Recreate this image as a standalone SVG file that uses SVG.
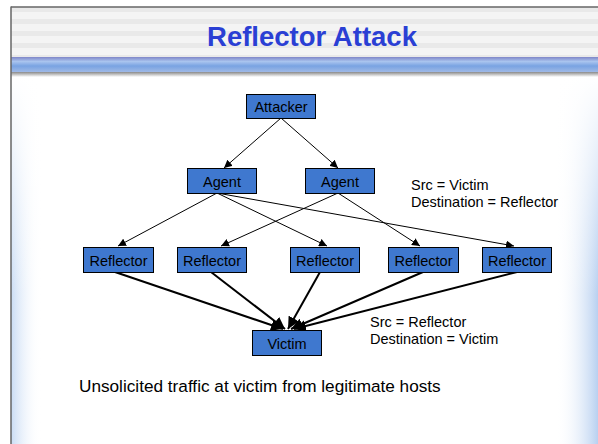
<svg xmlns="http://www.w3.org/2000/svg" width="598" height="444" viewBox="0 0 598 444">
<defs>
<pattern id="stripes" x="0" y="7" width="8" height="12" patternUnits="userSpaceOnUse">
<rect width="8" height="12" fill="#f4f4f4"/>
<rect y="0" width="8" height="5" fill="#e9e9e9"/>
</pattern>
<linearGradient id="band" x1="0" y1="0" x2="0" y2="1">
<stop offset="0" stop-color="#7f86c8"/>
<stop offset="0.3" stop-color="#a9c4ee"/>
<stop offset="0.6" stop-color="#79a3e2"/>
<stop offset="1" stop-color="#9fb9e6"/>
</linearGradient>
<linearGradient id="shadow" x1="0" y1="0" x2="0" y2="1">
<stop offset="0" stop-color="#8a8a8a"/>
<stop offset="1" stop-color="#ffffff"/>
</linearGradient>
<linearGradient id="lside" x1="0" y1="0" x2="1" y2="0">
<stop offset="0" stop-color="#c9dcf4"/>
<stop offset="1" stop-color="#ffffff" stop-opacity="0"/>
</linearGradient>
<linearGradient id="rside" x1="1" y1="0" x2="0" y2="0">
<stop offset="0" stop-color="#b8d0f0"/>
<stop offset="1" stop-color="#ffffff" stop-opacity="0"/>
</linearGradient>
<linearGradient id="lfade" x1="0" y1="0" x2="0" y2="1">
<stop offset="0" stop-color="#fff"/>
<stop offset="1" stop-color="#fff" stop-opacity="0"/>
</linearGradient>
<marker id="ah" viewBox="0 0 10 10" refX="10" refY="5" markerWidth="8" markerHeight="8" markerUnits="userSpaceOnUse" orient="auto">
<path d="M0,0 L10,5 L0,10 z" fill="#000"/>
</marker>
<marker id="ahb" viewBox="0 0 10 10" refX="10" refY="5" markerWidth="6" markerHeight="6" orient="auto">
<path d="M0,0 L10,5 L0,10 z" fill="#000"/>
</marker>
</defs>
<style>
.node rect { fill: #3f78cf; stroke: #000; stroke-width: 1; }
.node text { font-family: "Liberation Sans", Arial, sans-serif; font-size: 14.5px; fill: #000; text-anchor: middle; }
.thin { stroke: #000; stroke-width: 1; fill: none; marker-end: url(#ah); }
.thick { stroke: #000; stroke-width: 2; fill: none; marker-end: url(#ahb); }
.lbl { font-family: "Liberation Sans", Arial, sans-serif; font-size: 14.5px; fill: #000; }
</style>
<rect width="598" height="444" fill="#ffffff"/>
<!-- side gradients -->
<rect x="11" y="76" width="30" height="368" fill="url(#lside)"/>
<rect x="556" y="76" width="42" height="368" fill="url(#rside)"/>
<rect x="11" y="76" width="587" height="220" fill="url(#lfade)"/>
<!-- header -->
<rect x="11" y="7" width="587" height="50" fill="url(#stripes)"/>
<rect x="11" y="57" width="587" height="15" fill="url(#band)"/>
<rect x="11" y="72" width="587" height="5" fill="url(#shadow)"/>
<line x1="11" y1="7" x2="598" y2="7" stroke="#666" stroke-width="1.5"/>
<line x1="11" y1="6.5" x2="11" y2="444" stroke="#666" stroke-width="1.5"/>
<text x="312" y="46" font-family="Liberation Sans, Arial, sans-serif" font-size="27.5" font-weight="bold" fill="#2a3fd4" text-anchor="middle">Reflector Attack</text>
<g id="connectors">
<line class="thin" x1="281" y1="118" x2="224" y2="168"/>
<line class="thin" x1="281" y1="118" x2="338" y2="168"/>
<line class="thin" x1="217" y1="193" x2="118" y2="246"/>
<line class="thin" x1="217" y1="193" x2="327" y2="246"/>
<line class="thin" x1="217" y1="193" x2="514" y2="246"/>
<line class="thin" x1="338" y1="193" x2="221" y2="246"/>
<line class="thin" x1="338" y1="193" x2="420" y2="246"/>
<line class="thick" x1="115" y1="272" x2="283" y2="329"/>
<line class="thick" x1="211" y1="272" x2="285" y2="329"/>
<line class="thick" x1="320" y1="272" x2="288" y2="329"/>
<line class="thick" x1="423" y1="272" x2="291" y2="329"/>
<line class="thick" x1="517" y1="272" x2="294" y2="329"/>
</g>
<g id="attacker" class="node"><rect x="246.5" y="94.5" width="69" height="24"/><text x="281" y="111.5">Attacker</text></g>
<g id="agent1" class="node"><rect x="187.5" y="168.5" width="69" height="25"/><text x="222" y="186.5">Agent</text></g>
<g id="agent2" class="node"><rect x="305.5" y="168.5" width="69" height="25"/><text x="340" y="186.5">Agent</text></g>
<g id="reflector1" class="node"><rect x="83.5" y="247.5" width="70" height="25"/><text x="118.5" y="265.5">Reflector</text></g>
<g id="reflector2" class="node"><rect x="177.5" y="247.5" width="69" height="25"/><text x="212" y="265.5">Reflector</text></g>
<g id="reflector3" class="node"><rect x="290.5" y="247.5" width="69" height="25"/><text x="325" y="265.5">Reflector</text></g>
<g id="reflector4" class="node"><rect x="388.5" y="247.5" width="70" height="25"/><text x="423.5" y="265.5">Reflector</text></g>
<g id="reflector5" class="node"><rect x="482.5" y="247.5" width="69" height="25"/><text x="517" y="265.5">Reflector</text></g>
<g id="victim" class="node"><rect x="252.5" y="330.5" width="69" height="25"/><text x="287" y="348.5">Victim</text></g>
<text class="lbl" x="411" y="190">Src = Victim</text>
<text class="lbl" x="411" y="207">Destination = Reflector</text>
<text class="lbl" x="370" y="327">Src = Reflector</text>
<text class="lbl" x="370" y="344">Destination = Victim</text>
<text x="79" y="392" font-family="Liberation Sans, Arial, sans-serif" font-size="17.2" fill="#000">Unsolicited traffic at victim from legitimate hosts</text>
</svg>
